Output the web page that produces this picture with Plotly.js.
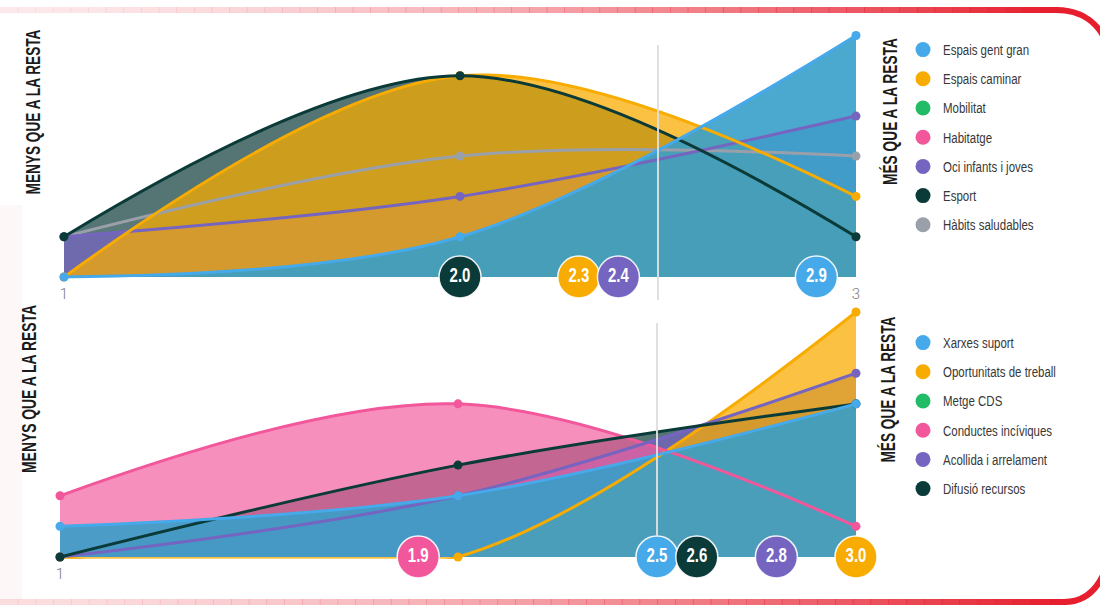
<!DOCTYPE html>
<html>
<head>
<meta charset="utf-8">
<script src="https://cdn.plot.ly/plotly-3.0.1.min.js"></script>
<style>
  html, body { margin: 0; padding: 0; background: #ffffff; }
  #chart { width: 1100px; height: 605px; }
</style>
</head>
<body>
<div id="chart"></div>
<script>
// ---------- DATA ----------
const xLevels = [1, 2, 3];
const tickVals = [1, 3];

// Top chart (share of answers, %)
const espaisGentGran   = [0, 14.3, 85.7];
const espaisCaminar    = [0, 71.4, 28.6];
const ociInfantsJoves  = [14.3, 28.6, 57.1];
const esport           = [14.3, 71.4, 14.3];
const habitsSaludables = [14.3, 42.9, 42.9];
const topLegendNames = ['Espais gent gran', 'Espais caminar', 'Mobilitat', 'Habitatge',
                        'Oci infants i joves', 'Esport', 'Hàbits saludables'];
const topBadgeValues = [2.0, 2.3, 2.4, 2.9];
const topBadgeSeries = ['Esport', 'Espais caminar', 'Oci infants i joves', 'Espais gent gran'];

// Bottom chart (share of answers, %)
const xarxesSuport        = [12.5, 25, 62.5];
const oportunitatsTreball = [0, 0, 100];
const conductesIncivique  = [25, 62.5, 12.5];
const acollidaArrelament  = [0, 25, 75];
const difusioRecursos     = [0, 37.5, 62.5];
const bottomLegendNames = ['Xarxes suport', 'Oportunitats de treball', 'Metge CDS',
                           'Conductes incíviques', 'Acollida i arrelament', 'Difusió recursos'];
const bottomBadgeValues = [1.9, 2.5, 2.6, 2.8, 3.0];
const bottomBadgeSeries = ['Conductes incíviques', 'Xarxes suport', 'Difusió recursos',
                           'Acollida i arrelament', 'Oportunitats de treball'];

const meanValue = 2.5;
const sideLabelLeft = 'MENYS QUE A LA RESTA';
const sideLabelRight = 'MÉS QUE A LA RESTA';

// ---------- STYLE ----------
const C = {
  blue:   '#46a9ea',
  orange: '#f8ab00',
  green:  '#22bb68',
  pink:   '#f2579b',
  purple: '#7564c0',
  dark:   '#0b3b39',
  gray:   '#9aa0a9'
};
const FILL = {
  blue:   'rgba(55,158,201,0.90)',
  orange: 'rgba(248,171,0,0.74)',
  pink:   'rgba(244,96,160,0.70)',
  purple: 'rgba(117,100,192,0.75)',
  dark:   'rgba(11,59,57,0.70)',
  gray:   'rgba(154,160,169,0.12)'
};
const seriesColor = {
  'Espais gent gran': C.blue, 'Espais caminar': C.orange, 'Mobilitat': C.green,
  'Habitatge': C.pink, 'Oci infants i joves': C.purple, 'Esport': C.dark,
  'Hàbits saludables': C.gray,
  'Xarxes suport': C.blue, 'Oportunitats de treball': C.orange, 'Metge CDS': C.green,
  'Conductes incíviques': C.pink, 'Acollida i arrelament': C.purple, 'Difusió recursos': C.dark
};
const NARROW = '"Liberation Sans Narrow", "Liberation Sans", Arial, sans-serif';
const W = 1100, H = 605;
const px = v => v / W;
const py = v => 1 - v / H;

function areaFill(y, fill, xa, ya) {
  return {
    type: 'scatter', mode: 'none', x: xLevels, y: y,
    xaxis: xa, yaxis: ya, showlegend: false, hoverinfo: 'skip',
    line: { shape: 'spline', smoothing: 1, width: 0 },
    fill: 'tozeroy', fillcolor: fill
  };
}
function areaLine(y, color, xa, ya) {
  return {
    type: 'scatter', mode: 'lines+markers', x: xLevels, y: y,
    xaxis: xa, yaxis: ya, showlegend: false, hoverinfo: 'skip',
    line: { color: color, width: 3, shape: 'spline', smoothing: 1 },
    marker: { color: color, size: 9 }, cliponaxis: false
  };
}
function legendDot(name, legend, xa, ya) {
  return {
    type: 'scatter', mode: 'markers', x: [null], y: [null], xaxis: xa, yaxis: ya,
    name: name, legend: legend, legendgroup: legend + name, showlegend: true,
    marker: { color: seriesColor[name], size: 15 }, hoverinfo: 'skip'
  };
}
function badges(vals, series, xa, ya) {
  return {
    type: 'scatter', mode: 'markers+text', x: vals, y: vals.map(() => 0),
    xaxis: xa, yaxis: ya, showlegend: false, hoverinfo: 'skip', cliponaxis: false,
    text: vals.map(v => v.toFixed(1)), textposition: 'middle center',
    textfont: { family: NARROW, size: 20, color: '#ffffff', weight: 700 },
    marker: { size: 42, color: series.map(s => seriesColor[s]),
              line: { color: 'rgba(255,255,255,0.9)', width: 1.5 } }
  };
}

const traces = [
  // top chart fills
  areaFill(esport, FILL.dark, 'x', 'y'),
  areaFill(habitsSaludables, FILL.gray, 'x', 'y'),
  areaFill(ociInfantsJoves, FILL.purple, 'x', 'y'),
  areaFill(espaisCaminar, FILL.orange, 'x', 'y'),
  areaFill(espaisGentGran, FILL.blue, 'x', 'y'),
  // top chart lines
  areaLine(habitsSaludables, C.gray, 'x', 'y'),
  areaLine(ociInfantsJoves, C.purple, 'x', 'y'),
  areaLine(espaisCaminar, C.orange, 'x', 'y'),
  areaLine(esport, C.dark, 'x', 'y'),
  areaLine(espaisGentGran, C.blue, 'x', 'y'),
  badges(topBadgeValues, topBadgeSeries, 'x', 'y'),
  // bottom chart fills
  areaFill(difusioRecursos, FILL.dark, 'x2', 'y2'),
  areaFill(acollidaArrelament, FILL.purple, 'x2', 'y2'),
  areaFill(conductesIncivique, FILL.pink, 'x2', 'y2'),
  areaFill(oportunitatsTreball, FILL.orange, 'x2', 'y2'),
  areaFill(xarxesSuport, FILL.blue, 'x2', 'y2'),
  // bottom chart lines
  areaLine(oportunitatsTreball, C.orange, 'x2', 'y2'),
  areaLine(conductesIncivique, C.pink, 'x2', 'y2'),
  areaLine(acollidaArrelament, C.purple, 'x2', 'y2'),
  areaLine(difusioRecursos, C.dark, 'x2', 'y2'),
  areaLine(xarxesSuport, C.blue, 'x2', 'y2'),
  badges(bottomBadgeValues, bottomBadgeSeries, 'x2', 'y2')
];
topLegendNames.forEach(n => traces.push(legendDot(n, 'legend', 'x', 'y')));
bottomLegendNames.forEach(n => traces.push(legendDot(n, 'legend2', 'x2', 'y2')));

// ---------- decorative frame ----------
const shapes = [];
function gradientBar(y0, y1, x0, x1, n, a0, a1) {
  for (let i = 0; i < n; i++) {
    const t = i / (n - 1);
    const a = a0 + (a1 - a0) * Math.pow(t, 1.6);
    shapes.push({
      type: 'rect', xref: 'paper', yref: 'paper', layer: 'below',
      x0: px(x0 + (x1 - x0) * i / n), x1: px(x0 + (x1 - x0) * (i + 1) / n + 0.6),
      y0: py(y1), y1: py(y0), line: { width: 0 },
      fillcolor: `rgba(230,30,45,${a.toFixed(3)})`
    });
  }
}
gradientBar(7, 13, 0, 1058, 60, 0.10, 1.0);
gradientBar(599, 605, 0, 1066, 60, 0.15, 1.0);
shapes.push({
  type: 'path', xref: 'paper', yref: 'paper', layer: 'below',
  path: `M ${px(1056)},${py(10)} C ${px(1082)},${py(10)} ${px(1098)},${py(22)} ${px(1108)},${py(45)}`,
  line: { color: 'rgb(230,30,45)', width: 6 }
});
shapes.push({
  type: 'path', xref: 'paper', yref: 'paper', layer: 'below',
  path: `M ${px(1064)},${py(602)} C ${px(1085)},${py(602)} ${px(1098)},${py(590)} ${px(1106)},${py(568)}`,
  line: { color: 'rgb(230,30,45)', width: 6 }
});
shapes.push({
  type: 'rect', xref: 'paper', yref: 'paper', layer: 'below',
  x0: 0, x1: px(22), y0: py(600), y1: py(205), line: { width: 0 },
  fillcolor: 'rgba(240,120,135,0.06)'
});
// mean reference lines
shapes.push({ type: 'line', xref: 'x', yref: 'paper', layer: 'above',
  x0: meanValue, x1: meanValue, y0: py(45), y1: py(300),
  line: { color: 'rgba(222,222,222,0.95)', width: 2 } });
shapes.push({ type: 'line', xref: 'x2', yref: 'paper', layer: 'above',
  x0: meanValue, x1: meanValue, y0: py(323), y1: py(536),
  line: { color: 'rgba(222,222,222,0.95)', width: 2 } });

const sideFont = { family: NARROW, size: 21, color: '#1b1b1b', weight: 700 };
function sideLabel(text, x, y) {
  return { text: text, xref: 'paper', yref: 'paper', x: px(x), y: py(y),
           textangle: -90, showarrow: false, font: sideFont,
           xanchor: 'center', yanchor: 'middle' };
}

const tickFont = { family: 'Roboto, sans-serif', size: 15, color: '#7a7a7a', weight: 300 };
const legendBase = {
  xanchor: 'left', yanchor: 'top', bgcolor: 'rgba(0,0,0,0)',
  font: { family: NARROW, size: 14, color: '#383838' },
  tracegroupgap: 8.0, traceorder: 'grouped', itemsizing: 'trace',
  itemclick: false, itemdoubleclick: false
};

const layout = {
  width: W, height: H, autosize: false,
  margin: { l: 0, r: 0, t: 0, b: 0 },
  paper_bgcolor: '#ffffff', plot_bgcolor: 'rgba(0,0,0,0)',
  hovermode: false, showlegend: true,
  xaxis: { domain: [px(64), px(856)], range: [1, 3], anchor: 'y',
           tickvals: tickVals, ticktext: tickVals.map(String), ticks: '',
           showgrid: false, zeroline: false, showline: false,
           tickfont: tickFont, ticklabelstandoff: 4 },
  yaxis: { domain: [py(278.7), py(29)], range: [-0.6, 88], anchor: 'x',
           visible: false, showgrid: false, zeroline: false },
  xaxis2: { domain: [px(60), px(856)], range: [1, 3], anchor: 'y2',
            tickvals: [tickVals[0]], ticktext: [String(tickVals[0])], ticks: '',
            showgrid: false, zeroline: false, showline: false,
            tickfont: tickFont, ticklabelstandoff: 4 },
  yaxis2: { domain: [py(558.7), py(307.1)], range: [-0.7, 102], anchor: 'x2',
            visible: false, showgrid: false, zeroline: false },
  legend: Object.assign({ x: px(903), y: py(34) }, legendBase),
  legend2: Object.assign({ x: px(903), y: py(327) }, legendBase),
  shapes: shapes,
  annotations: [
    sideLabel(sideLabelLeft, 33, 112),
    sideLabel(sideLabelRight, 890, 112),
    sideLabel(sideLabelLeft, 28, 389),
    sideLabel(sideLabelRight, 887, 390)
  ]
};

// Condense real SVG text along its reading direction (imitates a condensed typeface).
// anchor: 'middle' scales about the text centre, 'start' about its left edge.
function condenseText(el, opts) {
  let bb;
  try { bb = el.getBBox(); } catch (e) { return; }
  if (!bb || !bb.width) return;
  const s = opts.target ? opts.target / bb.width : opts.factor;
  const ax = opts.anchor === 'start' ? bb.x : bb.x + bb.width / 2;
  const t = `translate(${ax.toFixed(2)},0) scale(${s.toFixed(4)},1) translate(${(-ax).toFixed(2)},0)`;
  if (el.getAttribute('transform') !== t) el.setAttribute('transform', t);
}
function condenseAll(gd) {
  const sideTargets = [165, 147, 168, 146];
  gd.querySelectorAll('text.annotation-text').forEach((el, i) => {
    if (sideTargets[i]) condenseText(el, { target: sideTargets[i], anchor: 'middle' });
  });
  // legend entries of both legends (legend and legend2 use different text classes)
  gd.querySelectorAll('g.infolayer g.traces text').forEach(el =>
    condenseText(el, { factor: 0.82, anchor: 'start' }));
  gd.querySelectorAll('g.textpoint text').forEach(el =>
    condenseText(el, { target: 21, anchor: 'middle' }));
}
const gdEl = document.getElementById('chart');
const observer = new MutationObserver(() => condenseAll(gdEl));
observer.observe(gdEl, { childList: true, subtree: true, characterData: true });
Plotly.newPlot(gdEl, traces, layout, { displayModeBar: false, staticPlot: true }).then(gd => {
  condenseAll(gd);
  gd.on('plotly_afterplot', () => condenseAll(gd));
  setTimeout(() => condenseAll(gd), 20);
  setTimeout(() => condenseAll(gd), 150);
});
</script>
</body>
</html>
